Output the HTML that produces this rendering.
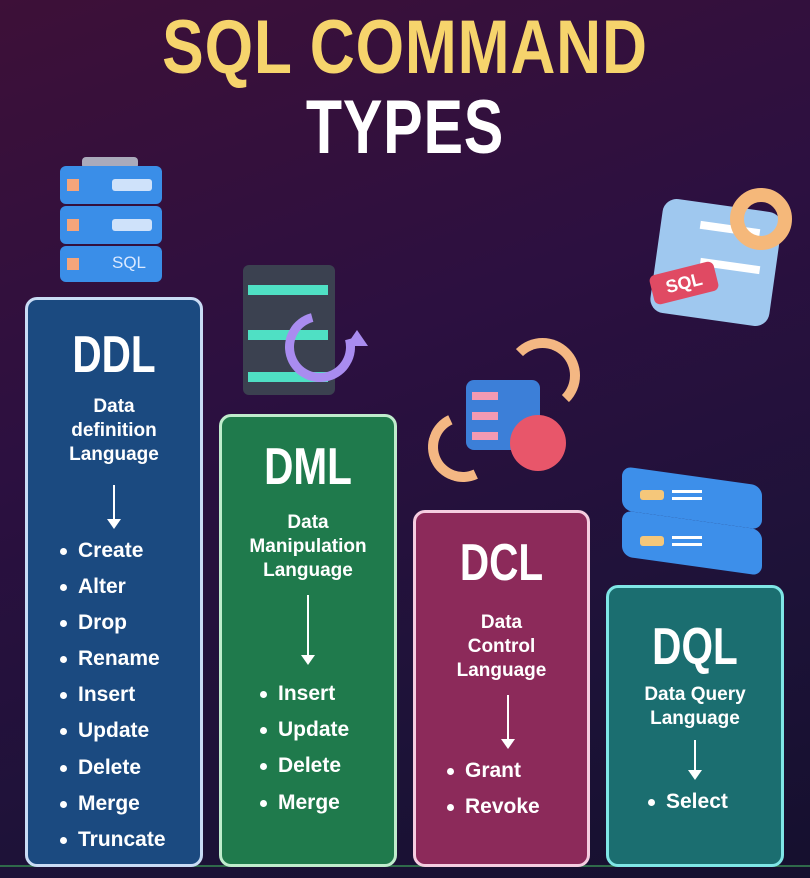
<!DOCTYPE html>
<html><head><meta charset="utf-8"><style>
*{margin:0;padding:0;box-sizing:border-box}
body{width:810px;height:878px;overflow:hidden;position:relative;font-family:"Liberation Sans","DejaVu Sans",sans-serif;
background:linear-gradient(160deg,#3d1038 0%,#2c1040 40%,#1d1238 75%,#15102e 100%)}
.a{position:absolute}
.t{position:absolute;left:0;width:810px;text-align:center;font-weight:bold;transform:scaleX(0.78);letter-spacing:1px}
.box{position:absolute;border-radius:12px;border:3px solid}
.h{position:absolute;text-align:center;color:#fff;font-weight:bold;font-size:52px;transform:scaleX(0.78);line-height:52px}
.s{position:absolute;text-align:center;color:#fff;font-weight:bold;font-size:19px;line-height:24px}
.ar{position:absolute;width:2px;background:#fff}
.ar:after{content:"";position:absolute;left:-6px;bottom:-2px;border-left:7px solid transparent;border-right:7px solid transparent;border-top:10px solid #fff}
.b{position:absolute;color:#fff;font-weight:bold;font-size:21px;line-height:24px;white-space:nowrap}
.b:before{content:"";position:absolute;left:-18px;top:9px;width:7px;height:7px;border-radius:50%;background:#fff}
</style></head><body>
<div class="t" style="top:8px;font-size:76px;line-height:80px;color:#f6d46c;transform:scaleX(0.82)">SQL COMMAND</div>
<div class="t" style="top:90px;font-size:76px;line-height:76px;color:#fff">TYPES</div>

<!-- DDL icon -->
<div class="a" style="left:82px;top:157px;width:56px;height:12px;background:#aab;border-radius:4px"></div>
<div class="a" style="left:60px;top:166px;width:102px;height:38px;background:#3a8ee8;border-radius:6px"></div>
<div class="a" style="left:60px;top:206px;width:102px;height:38px;background:#3a8ee8;border-radius:6px"></div>
<div class="a" style="left:60px;top:246px;width:102px;height:36px;background:#3a8ee8;border-radius:6px"></div>
<div class="a" style="left:67px;top:179px;width:12px;height:12px;background:#f5a57a"></div>
<div class="a" style="left:112px;top:179px;width:40px;height:12px;background:#cfe2fa;border-radius:3px"></div>
<div class="a" style="left:67px;top:219px;width:12px;height:12px;background:#f5a57a"></div>
<div class="a" style="left:112px;top:219px;width:40px;height:12px;background:#cfe2fa;border-radius:3px"></div>
<div class="a" style="left:67px;top:258px;width:12px;height:12px;background:#f5a57a"></div>
<div class="a" style="left:112px;top:253px;color:#dbe9ff;font-size:17px">SQL</div>

<!-- DML icon -->
<div class="a" style="left:243px;top:265px;width:92px;height:130px;background:#3b4150;border-radius:6px"></div>
<div class="a" style="left:248px;top:285px;width:80px;height:10px;background:#4fe0c4"></div>
<div class="a" style="left:248px;top:330px;width:80px;height:10px;background:#4fe0c4"></div>
<div class="a" style="left:248px;top:372px;width:80px;height:10px;background:#4fe0c4"></div>
<div class="a" style="left:285px;top:312px;width:70px;height:70px;border:9px solid #a98cf0;border-radius:50%;border-top-color:transparent;transform:rotate(30deg)"></div>
<div class="a" style="left:346px;top:330px;border-left:11px solid transparent;border-right:11px solid transparent;border-bottom:16px solid #a98cf0"></div>

<!-- DCL icon -->
<div class="a" style="left:466px;top:380px;width:74px;height:70px;background:#3c7fd8;border-radius:8px"></div>
<div class="a" style="left:472px;top:392px;width:26px;height:8px;background:#f29ab3"></div>
<div class="a" style="left:472px;top:412px;width:26px;height:8px;background:#f29ab3"></div>
<div class="a" style="left:472px;top:432px;width:26px;height:8px;background:#f29ab3"></div>
<div class="a" style="left:510px;top:415px;width:56px;height:56px;border-radius:50%;border:12px dotted #e8566a;background:#e8566a"></div>
<div class="a" style="left:505px;top:338px;width:75px;height:75px;border:10px solid #f4b783;border-radius:50%;border-left-color:transparent;border-bottom-color:transparent"></div>
<div class="a" style="left:428px;top:412px;width:70px;height:70px;border:10px solid #f4b783;border-radius:50%;border-right-color:transparent;border-top-color:transparent;transform:rotate(20deg)"></div>

<!-- SQL icon top right -->
<div class="a" style="left:656px;top:205px;width:120px;height:115px;background:#9fc8ef;border-radius:14px;transform:rotate(8deg)"></div>
<div class="a" style="left:700px;top:225px;width:60px;height:8px;background:#fff;transform:rotate(8deg)"></div>
<div class="a" style="left:700px;top:262px;width:60px;height:8px;background:#fff;transform:rotate(8deg)"></div>
<div class="a" style="left:730px;top:188px;width:62px;height:62px;border-radius:50%;border:14px solid #f5b87a"></div>
<div class="a" style="left:651px;top:268px;width:66px;height:30px;background:#e04a63;border-radius:6px;color:#fff;font-size:18px;font-weight:bold;text-align:center;line-height:30px;transform:rotate(-14deg)">SQL</div>

<!-- DQL icon -->
<div class="a" style="left:622px;top:476px;width:140px;height:44px;background:#3d8fea;border-radius:10px;transform:skewY(8deg)"></div>
<div class="a" style="left:622px;top:520px;width:140px;height:46px;background:#3d8fea;border-radius:10px;transform:skewY(8deg)"></div>
<div class="a" style="left:640px;top:490px;width:24px;height:10px;background:#f5c77a;border-radius:3px"></div>
<div class="a" style="left:640px;top:536px;width:24px;height:10px;background:#f5c77a;border-radius:3px"></div>
<div class="a" style="left:672px;top:490px;width:30px;height:10px;border-top:3px solid #fff;border-bottom:3px solid #fff"></div>
<div class="a" style="left:672px;top:536px;width:30px;height:10px;border-top:3px solid #fff;border-bottom:3px solid #fff"></div>

<!-- bottom line -->
<div class="a" style="left:0;top:865px;width:810px;height:2px;background:#2f6a4a"></div>

<!-- DDL -->
<div class="box" style="left:25px;top:297px;width:178px;height:570px;background:#1b4a80;border-color:#c9dcf5"></div>
<div class="h" style="left:25px;width:178px;top:329px">DDL</div>
<div class="s" style="left:25px;width:178px;top:395px">Data<br>definition<br>Language</div>
<div class="ar" style="left:113px;top:485px;height:42px"></div>
<div class="b" style="left:78px;top:539px">Create</div>
<div class="b" style="left:78px;top:575px">Alter</div>
<div class="b" style="left:78px;top:611px">Drop</div>
<div class="b" style="left:78px;top:647px">Rename</div>
<div class="b" style="left:78px;top:683px">Insert</div>
<div class="b" style="left:78px;top:719px">Update</div>
<div class="b" style="left:78px;top:756px">Delete</div>
<div class="b" style="left:78px;top:792px">Merge</div>
<div class="b" style="left:78px;top:828px">Truncate</div>

<!-- DML -->
<div class="box" style="left:219px;top:414px;width:178px;height:453px;background:#1f7a4c;border-color:#bfeccc"></div>
<div class="h" style="left:219px;width:178px;top:441px">DML</div>
<div class="s" style="left:219px;width:178px;top:511px">Data<br>Manipulation<br>Language</div>
<div class="ar" style="left:307px;top:595px;height:68px"></div>
<div class="b" style="left:278px;top:682px">Insert</div>
<div class="b" style="left:278px;top:718px">Update</div>
<div class="b" style="left:278px;top:754px">Delete</div>
<div class="b" style="left:278px;top:791px">Merge</div>

<!-- DCL -->
<div class="box" style="left:413px;top:510px;width:177px;height:357px;background:#8c2a5a;border-color:#f5cde0"></div>
<div class="h" style="left:413px;width:177px;top:537px">DCL</div>
<div class="s" style="left:413px;width:177px;top:611px">Data<br>Control<br>Language</div>
<div class="ar" style="left:507px;top:695px;height:52px"></div>
<div class="b" style="left:465px;top:759px">Grant</div>
<div class="b" style="left:465px;top:795px">Revoke</div>

<!-- DQL -->
<div class="box" style="left:606px;top:585px;width:178px;height:282px;background:#1b6e70;border-color:#7fe6e6"></div>
<div class="h" style="left:606px;width:178px;top:621px">DQL</div>
<div class="s" style="left:606px;width:178px;top:683px">Data Query<br>Language</div>
<div class="ar" style="left:694px;top:740px;height:38px"></div>
<div class="b" style="left:666px;top:790px">Select</div>
</body></html>
